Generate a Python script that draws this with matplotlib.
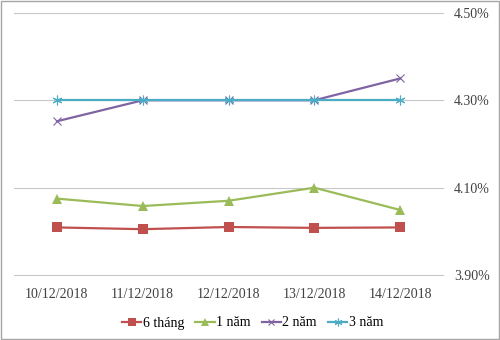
import matplotlib.pyplot as plt
from matplotlib.patches import Rectangle

plt.rcParams['font.family'] = ['Liberation Serif', 'DejaVu Serif']

# -------------------------------------------------
# DATA
# -------------------------------------------------
dates = ["10/12/2018", "11/12/2018", "12/12/2018", "13/12/2018", "14/12/2018"]
six_month = [4.009, 4.005, 4.010, 4.008, 4.009]
one_year = [4.075, 4.058, 4.070, 4.100, 4.049]
two_year = [4.252, 4.300, 4.300, 4.300, 4.350]
three_year = [4.300, 4.300, 4.300, 4.300, 4.300]
y_ticks = [3.90, 4.10, 4.30, 4.50]

series = [
    ("6 tháng", six_month, "#C0504D", "s", 6.5, 0),
    ("1 năm", one_year, "#9BBB59", "^", 7, 0),
    ("2 năm", two_year, "#8064A2", "x", 6, 0.8),
    ("3 năm", three_year, "#4BACC6", (6, 2, 0), 7, 0.8),
]

# -------------------------------------------------
# PLOT
# -------------------------------------------------
fig = plt.figure(figsize=(5, 3.4), dpi=100)
ax = fig.add_axes([0.028, 0.191, 0.858, 0.771])

x = list(range(len(dates)))
for name, vals, color, marker, ms, mew in series:
    ax.plot(x, vals, color=color, marker=marker, markersize=ms,
            linewidth=1.6, markeredgewidth=mew,
            markeredgecolor=color, label=name)

ax.set_xlim(-0.5, len(dates) - 0.5)
ax.set_ylim(3.90, 4.50)
ax.set_xticks(x)
ax.set_xticklabels(dates)
ax.set_yticks(y_ticks)
ax.set_yticklabels([f"{v:.2f}%" for v in y_ticks])
ax.yaxis.tick_right()
ax.tick_params(axis="both", length=0, labelsize=10, colors="#404040")
ax.tick_params(axis="y", pad=8)
ax.tick_params(axis="x", pad=9)
ax.grid(axis="y", color="#C8C8C8", linewidth=0.8)
for gl in ax.get_ygridlines():
    gl.set_clip_on(False)
ax.set_axisbelow(True)
for s in ax.spines.values():
    s.set_visible(False)

handles, labels = ax.get_legend_handles_labels()
fig.legend(handles, labels, loc="center", bbox_to_anchor=(0.505, 0.05), ncol=4,
           frameon=False, fontsize=10, handlelength=1.4, handletextpad=0.1,
           columnspacing=0.8, markerscale=0.8)

fig.patches.append(Rectangle((0.001, 0.0015), 0.997, 0.996, transform=fig.transFigure,
                             fill=False, edgecolor="#A6A6A6", linewidth=1))

fig.savefig("out.png", dpi=100)
